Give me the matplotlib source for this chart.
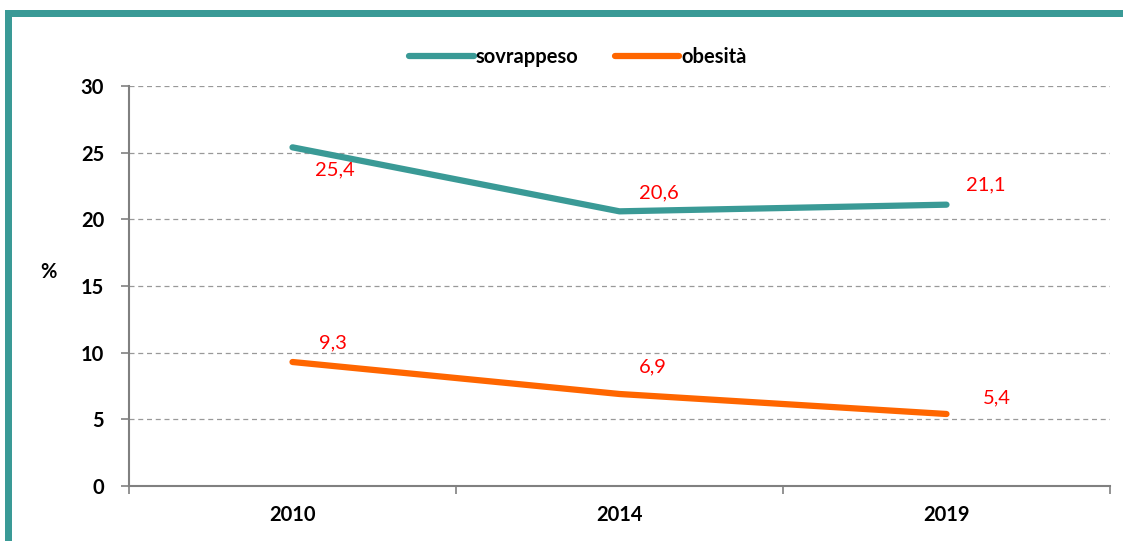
import matplotlib.pyplot as plt
from matplotlib.patches import Rectangle

years = ["2010", "2014", "2019"]
sovrappeso = [25.4, 20.6, 21.1]
obesita = [9.3, 6.9, 5.4]
sovr_labels = ["25,4", "20,6", "21,1"]
obes_labels = ["9,3", "6,9", "5,4"]

teal = "#3a9a96"
orange = "#ff6600"
red = "#ff0000"

plt.rcParams["font.family"] = ["Lato", "DejaVu Sans"]

fig = plt.figure(figsize=(11.23, 5.41), dpi=100)
W, H = 1123, 541
ax = fig.add_axes([129 / W, 1 - 486 / H, (1110 - 129) / W, (486 - 86) / H])

x = list(range(len(years)))
ax.plot(x, sovrappeso, color=teal, lw=4.5, solid_capstyle="round", label="sovrappeso")
ax.plot(x, obesita, color=orange, lw=4.5, solid_capstyle="round", label="obesità")

# data labels
offs_s = [(0.07, -1.7), (0.06, 1.4), (0.06, 1.5)]
offs_o = [(0.08, 1.4), (0.06, 2.0), (0.11, 1.2)]
for i in x:
    ax.text(i + offs_s[i][0], sovrappeso[i] + offs_s[i][1], sovr_labels[i],
            color=red, fontsize=14.5, va="center", ha="left")
    ax.text(i + offs_o[i][0], obesita[i] + offs_o[i][1], obes_labels[i],
            color=red, fontsize=14.5, va="center", ha="left")

ax.set_xlim(-0.5, 2.5)
ax.set_ylim(0, 30)
ax.set_yticks(range(0, 31, 5))
ax.set_xticks(x)
ax.set_xticklabels(years)
ax.set_xticks([-0.5, 0.5, 1.5, 2.5], minor=True)
ax.tick_params(axis="x", which="major", length=0, pad=14, labelsize=14.5)
ax.tick_params(axis="x", which="minor", length=6, color="#808080", width=1.2)
ax.tick_params(axis="y", length=6, color="#808080", width=1.2, labelsize=14.5, pad=12)
for lab in ax.get_xticklabels() + ax.get_yticklabels():
    lab.set_fontweight("bold")

for y in range(5, 31, 5):
    ax.axhline(y, color="#999999", lw=0.9, ls=(0, (4, 3)), zorder=0)

for s in ["top", "right"]:
    ax.spines[s].set_visible(False)
for s in ["left", "bottom"]:
    ax.spines[s].set_color("#808080")
    ax.spines[s].set_linewidth(1.5)

ax.set_ylabel("%", rotation=0, fontsize=14.5, fontweight="bold", labelpad=0,
              va="center", ha="center")
ax.yaxis.set_label_coords(-81 / 981, (486 - 272) / 400)

leg = ax.legend(loc="center", bbox_to_anchor=(578 / W, 1 - 57 / H),
                bbox_transform=fig.transFigure, ncol=2, frameon=False,
                handlelength=3.2, handletextpad=0.1, columnspacing=1.8,
                prop={"weight": "bold", "size": 14.5})

# teal frame
fig.add_artist(Rectangle((5 / W, 1 - 17 / H), 1 - 5 / W, 7 / H,
                         transform=fig.transFigure, color=teal, lw=0))
fig.add_artist(Rectangle((5 / W, 0), 7 / W, 1 - 10 / H,
                         transform=fig.transFigure, color=teal, lw=0))

fig.savefig("out.png", dpi=100)
